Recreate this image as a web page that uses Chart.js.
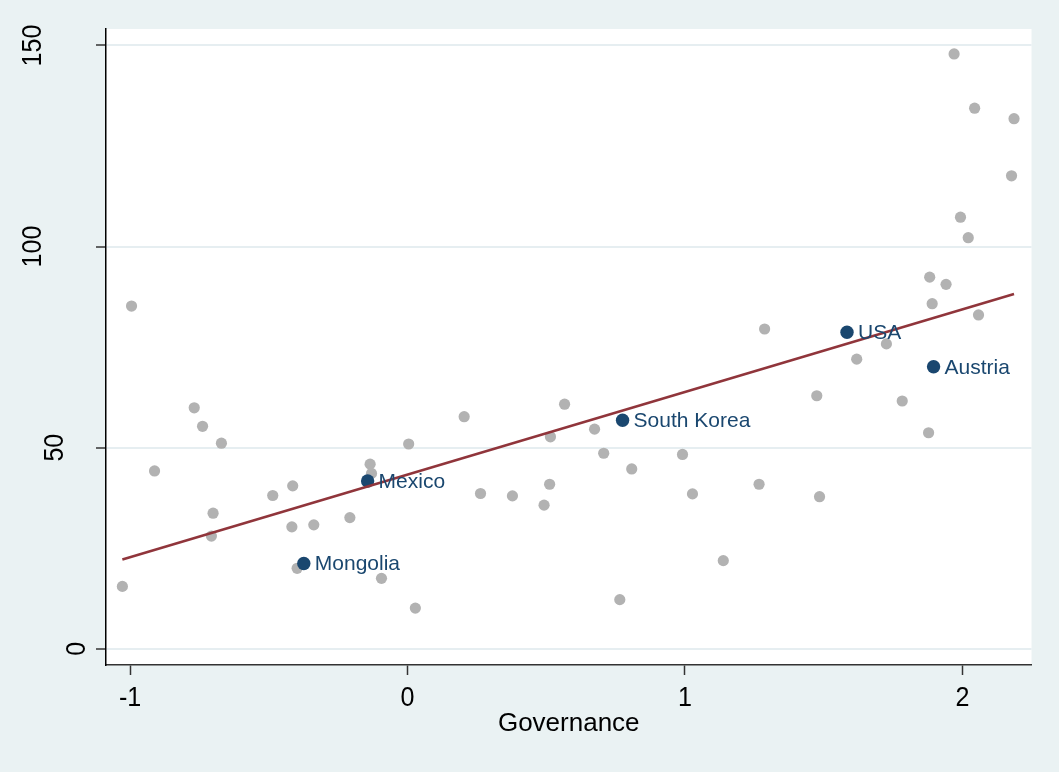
<!DOCTYPE html>
<html lang="en">
<head>
  <meta charset="UTF-8">
  <title>Governance scatter</title>
  <script src="https://cdn.jsdelivr.net/npm/chart.js"></script>
  <style>
    body {
      margin: 0;
      background: #eaf2f3;
    }
    canvas {
      display: block;
    }
  </style>
</head>
<body>
<canvas id="gov_chart" width="1059" height="772"></canvas>

<script>
  // grey countries: governance score / y value
  const govGrey = [-1.028, -0.995, -0.912, -0.769, -0.739, -0.671, -0.701, -0.707, -0.486, -0.414,
                   -0.417, -0.398, -0.338, -0.208, -0.135, -0.130, -0.094, 0.004, 0.028, 0.204,
                   0.263, 0.378, 0.492, 0.515, 0.512, 0.566, 0.674, 0.707, 0.765, 0.808,
                   0.991, 1.027, 1.138, 1.267, 1.287, 1.475, 1.485, 1.619, 1.726, 1.783,
                   1.878, 1.882, 1.891, 1.941, 1.970, 1.993, 2.021, 2.044, 2.058, 2.177, 2.186];
  const valGrey = [15.5, 85.2, 44.2, 59.9, 55.3, 51.1, 33.7, 28.0, 38.1, 40.5,
                   30.3, 20.0, 30.8, 32.6, 45.9, 43.6, 17.5, 50.9, 10.1, 57.7,
                   38.6, 38.0, 35.7, 52.7, 40.9, 60.8, 54.6, 48.6, 12.2, 44.7,
                   48.3, 38.5, 21.9, 40.9, 79.5, 62.9, 37.8, 72.0, 75.8, 61.6,
                   53.7, 92.4, 85.8, 90.6, 147.9, 107.3, 102.2, 134.4, 83.0, 117.6, 131.8];

  // labelled countries
  const labNames = ['USA', 'Austria', 'South Korea', 'Mexico', 'Mongolia'];
  const govLab = [1.584, 1.896, 0.775, -0.144, -0.374];
  const valLab = [78.7, 70.1, 56.8, 41.7, 21.2];

  // linear fit ends
  const fitX = [-1.028, 2.186];
  const fitY = [22.2, 88.2];

  const xTicks = [-1, 0, 1, 2];
  const yTicks = [0, 50, 100, 150];

  const FONT = "'Liberation Sans', Arial, sans-serif";
  const TICK_SIZE = 27;
  const SQUEEZE = 0.93;   // tick digits a little narrow and tall

  function toPoints(xs, ys) {
    return xs.map((x, i) => ({ x: x, y: ys[i] }));
  }

  // draws text so that its cap height is centred on (0,0) of the current frame
  function capText(ctx, txt, size) {
    ctx.font = size + 'px ' + FONT;
    ctx.textAlign = 'center';
    ctx.textBaseline = 'alphabetic';
    ctx.scale(SQUEEZE, 1);
    ctx.fillText(txt, 0, size * 0.716 / 2);
  }

  // white plot region on the blue-grey page
  const bgPlugin = {
    id: 'bg',
    beforeDraw(chart) {
      const ctx = chart.ctx;
      const a = chart.chartArea;
      ctx.save();
      ctx.fillStyle = '#eaf2f3';
      ctx.fillRect(0, 0, chart.width, chart.height);
      ctx.fillStyle = '#ffffff';
      ctx.fillRect(a.left, a.top, a.right - a.left, a.bottom - a.top);
      ctx.restore();
    }
  };

  // tick labels (rotated on y) + country names
  const textPlugin = {
    id: 'texts',
    afterDraw(chart) {
      const ctx = chart.ctx;
      const xs = chart.scales.x;
      const ys = chart.scales.y;
      ctx.save();
      ctx.fillStyle = '#000';

      yTicks.forEach(v => {
        const txt = String(v);
        ctx.save();
        ctx.translate(97 - 22 * txt.length, ys.getPixelForValue(v));
        ctx.rotate(-Math.PI / 2);
        capText(ctx, txt, TICK_SIZE);
        ctx.restore();
      });

      xTicks.forEach(v => {
        ctx.save();
        ctx.translate(xs.getPixelForValue(v), xs.top + 31);
        capText(ctx, String(v), TICK_SIZE);
        ctx.restore();
      });

      ctx.fillStyle = '#1a476f';
      ctx.font = '21px ' + FONT;
      ctx.textAlign = 'left';
      ctx.textBaseline = 'middle';
      labNames.forEach((name, i) => {
        const px = xs.getPixelForValue(govLab[i]);
        const py = ys.getPixelForValue(valLab[i]);
        ctx.fillText(name, px + 11, py + 1);
      });
      ctx.restore();
    }
  };

  const ctx = document.getElementById('gov_chart').getContext('2d');
  const gov_chart = new Chart(ctx, {
    type: 'scatter',
    data: {
      datasets: [
        {
          type: 'line',
          data: toPoints(fitX, fitY),
          borderColor: '#90353b',
          borderWidth: 2.5,
          pointRadius: 0,
          fill: false
        },
        {
          data: toPoints(govLab, valLab),
          backgroundColor: '#1a476f',
          borderColor: '#1a476f',
          borderWidth: 0,
          pointRadius: 6.7
        },
        {
          data: toPoints(govGrey, valGrey),
          backgroundColor: '#b2b2b2',
          borderColor: '#b2b2b2',
          borderWidth: 0,
          pointRadius: 5.6
        }
      ]
    },
    options: {
      responsive: false,
      animation: false,
      layout: {
        padding: { left: 0, top: 29, right: 27.5, bottom: 0 }
      },
      plugins: {
        legend: { display: false },
        tooltip: { enabled: false }
      },
      scales: {
        x: {
          type: 'linear',
          min: -1.087,
          max: 2.249,
          afterBuildTicks: s => { s.ticks = xTicks.map(v => ({ value: v })); },
          afterFit: s => { s.height = 107; },
          border: { display: true, color: '#333', width: 1.5 },
          grid: {
            drawOnChartArea: false,
            drawTicks: true,
            tickLength: 10,
            tickColor: '#333',
            tickWidth: 1.5
          },
          ticks: { display: false },
          title: {
            display: true,
            text: 'Governance',
            color: '#000',
            font: { family: FONT, size: 26 },
            padding: { top: 0, bottom: 33 }
          }
        },
        y: {
          type: 'linear',
          min: -4.05,
          max: 154.1,
          afterBuildTicks: s => { s.ticks = yTicks.map(v => ({ value: v })); },
          afterFit: s => { s.width = 106; },
          border: { display: true, color: '#000', width: 1.5 },
          grid: {
            color: '#e6eef1',
            lineWidth: 2,
            drawTicks: true,
            tickLength: 10,
            tickColor: '#333',
            tickWidth: 1.5
          },
          ticks: { display: false }
        }
      }
    },
    plugins: [bgPlugin, textPlugin]
  });
</script>
</body>
</html>
